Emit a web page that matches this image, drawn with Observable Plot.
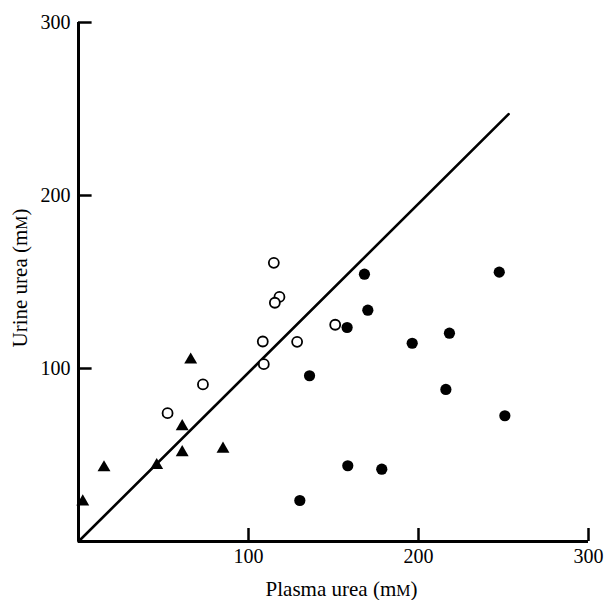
<!DOCTYPE html>
<html>
<head>
<meta charset="utf-8">
<script src="https://cdn.jsdelivr.net/npm/d3@7"></script>
<script src="https://cdn.jsdelivr.net/npm/@observablehq/plot@0.6"></script>
<style>
  html, body { margin: 0; padding: 0; background: #fff; }
  #chart svg { display: block; }
</style>
</head>
<body>
<div id="chart"></div>
<script>
// Triangles (filled)
const triX = [66, 61, 61, 85, 46, 15, 2.5];
const triY = [105, 66.5, 51.5, 53.5, 44, 42.7, 23];
// Open circles
const openX = [52.4, 73.2, 114.9, 118.2, 115.5, 108.4, 109, 128.6, 151];
const openY = [74.2, 90.8, 161.1, 141.4, 138, 115.6, 102.5, 115.4, 125.3];
// Filled circles
const filledX = [168.2, 170.2, 158, 196.3, 135.9, 247.5, 218.2, 216.1, 250.8, 158.4, 178.4, 130.2];
const filledY = [154.5, 133.7, 123.7, 114.6, 95.8, 155.7, 120.4, 87.9, 72.7, 43.8, 41.8, 23.7];
// Identity-like line
const lineX = [0, 253];
const lineY = [0, 247];
// Axes
const xTicks = [100, 200, 300];
const yTicks = [100, 200, 300];
const xLabel = "Plasma urea (mM)";
const yLabel = "Urine urea (mM)";

const tri = triX.map((x, i) => ({x, y: triY[i]}));
const open = openX.map((x, i) => ({x, y: openY[i]}));
const filled = filledX.map((x, i) => ({x, y: filledY[i]}));
const line = lineX.map((x, i) => ({x, y: lineY[i]}));

const font = "'Liberation Serif', 'DejaVu Serif', serif";

const chart = Plot.plot({
  width: 610,
  height: 600,
  marginLeft: 78,
  marginRight: 22,
  marginTop: 22,
  marginBottom: 59,
  style: {fontFamily: font, fontSize: "20px", color: "black", background: "white"},
  x: {domain: [0, 300], axis: null},
  y: {domain: [0, 300], axis: null},
  marks: [
    Plot.axisX(xTicks, {tickSize: 0, tickPadding: 7, label: null, fontSize: 20}),
    Plot.axisY(yTicks, {tickSize: 0, tickPadding: 8, label: null, fontSize: 20}),
    Plot.ruleX(xTicks, {x: d => d, y1: 0, y2: 7.5, stroke: "black", strokeWidth: 2.5}),
    Plot.ruleY(yTicks, {y: d => d, x1: 0, x2: 8, stroke: "black", strokeWidth: 2.5}),
    Plot.ruleX([0], {y1: 0, y2: 300, stroke: "black", strokeWidth: 3}),
    Plot.ruleY([0], {x1: 0, x2: 300, stroke: "black", strokeWidth: 3}),
    Plot.line(line, {x: "x", y: "y", stroke: "black", strokeWidth: 2.6}),
    Plot.dot(tri, {x: "x", y: "y", symbol: "triangle", r: 4.8, fill: "black", stroke: "none"}),
    Plot.dot(open, {x: "x", y: "y", r: 5, fill: "white", stroke: "black", strokeWidth: 1.8}),
    Plot.dot(filled, {x: "x", y: "y", r: 5.6, fill: "black", stroke: "none"}),
    Plot.text([xLabel], {frameAnchor: "bottom", dy: 48, dx: 8, text: d => d, fontSize: 21, textAnchor: "middle", lineAnchor: "middle", fill: "black"}),
    Plot.text([yLabel], {frameAnchor: "left", dx: -58, dy: -4, rotate: -90, text: d => d, fontSize: 21, textAnchor: "middle", lineAnchor: "middle", fill: "black"})
  ]
});

document.getElementById("chart").appendChild(chart);

// Render the "M" of mM as a small capital
chart.querySelectorAll("text").forEach(t => {
  const s = t.textContent;
  if (s.endsWith("(mM)")) {
    const pre = s.slice(0, -2);
    t.textContent = pre;
    const ts = document.createElementNS("http://www.w3.org/2000/svg", "tspan");
    ts.setAttribute("font-size", "0.76em");
    ts.textContent = "M";
    t.appendChild(ts);
    t.appendChild(document.createTextNode(")"));
  }
});
</script>
</body>
</html>
